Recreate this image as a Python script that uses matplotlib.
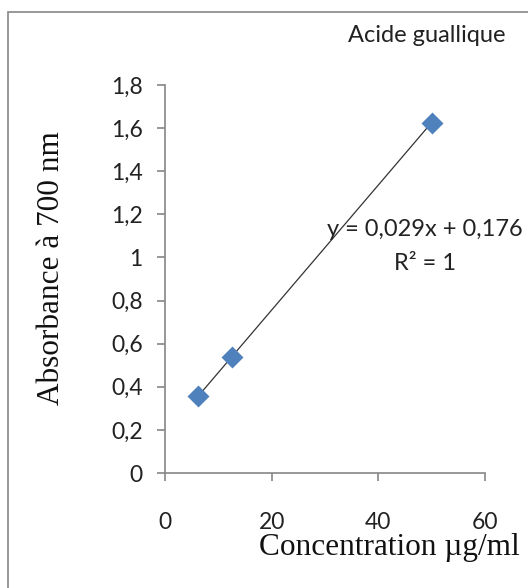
import matplotlib
matplotlib.use('Agg')
import matplotlib.pyplot as plt
from matplotlib.patches import Rectangle
from matplotlib.ticker import FuncFormatter

# data
conc = [6.25, 12.5, 50]
absorb = [0.357, 0.539, 1.626]
slope = 0.029
intercept = 0.176
title = 'Acide guallique'
xlabel = 'Concentration µg/ml'
ylabel = 'Absorbance à 700 nm'
x_ticks = [0, 20, 40, 60]
y_ticks = [0, 0.2, 0.4, 0.6, 0.8, 1.0, 1.2, 1.4, 1.6, 1.8]

SANS = ['Lato', 'DejaVu Sans']
SERIF = ['Liberation Serif', 'DejaVu Serif']
GRAY = '#868686'
W, H = 528, 588

fig = plt.figure(figsize=(W / 100, H / 100), dpi=100)
ax = fig.add_axes([165 / W, 1 - 473 / H, 320 / W, 388 / H])

# outer chart border (cut off on right and bottom like the screenshot)
fig.patches.append(Rectangle((8 / W, -0.1), 1.2, 1 - 12 / H + 0.1,
                             transform=fig.transFigure, fill=False,
                             edgecolor=GRAY, lw=1.2, clip_on=False))

# trendline across the data range
fit_x = [min(conc), max(conc)]
fit_y = [slope * x + intercept for x in fit_x]
ax.plot(fit_x, fit_y, color='#333333', lw=0.9, zorder=2)
ax.scatter(conc, absorb, marker='D', s=125, color='#4F81BD', zorder=3,
           linewidths=0)

ax.set_xlim(0, 60)
ax.set_ylim(0, 1.8)
ax.set_xticks(x_ticks)
ax.set_yticks(y_ticks)
fmt = FuncFormatter(lambda v, p: f'{v:g}'.replace('.', ','))
ax.yaxis.set_major_formatter(fmt)
ax.xaxis.set_major_formatter(fmt)

for s in ('top', 'right'):
    ax.spines[s].set_visible(False)
for s in ('left', 'bottom'):
    ax.spines[s].set_color(GRAY)
    ax.spines[s].set_linewidth(1.2)
ax.tick_params(direction='out', length=6, width=1.2, color=GRAY,
               labelsize=16.5, labelcolor='#222222')
ax.tick_params(axis='y', pad=10)
ax.tick_params(axis='x', pad=22)
for lab in ax.get_xticklabels() + ax.get_yticklabels():
    lab.set_family(SANS)

ax.set_xlabel(xlabel, family=SERIF, fontsize=22.5, color='#111111')
ax.xaxis.set_label_coords(520 / W, 1 - 548 / H, transform=fig.transFigure)
ax.xaxis.label.set_horizontalalignment('right')
ax.xaxis.label.set_verticalalignment('center')
ax.set_ylabel(ylabel, family=SERIF, fontsize=22.5, color='#111111')
ax.yaxis.set_label_coords(52 / W, 1 - 268 / H, transform=fig.transFigure)
ax.yaxis.label.set_verticalalignment('center')

fig.text(427 / W, 1 - 35 / H, title, family=SANS, fontsize=17,
         ha='center', va='center', color='#222222')
fig.text(425 / W, 1 - 229 / H, 'y = 0,029x + 0,176', family=SANS,
         fontsize=17, ha='center', va='center', color='#222222')
fig.text(425 / W, 1 - 263 / H, 'R² = 1', family=SANS,
         fontsize=17, ha='center', va='center', color='#222222')

fig.savefig('out.png', dpi=100)
